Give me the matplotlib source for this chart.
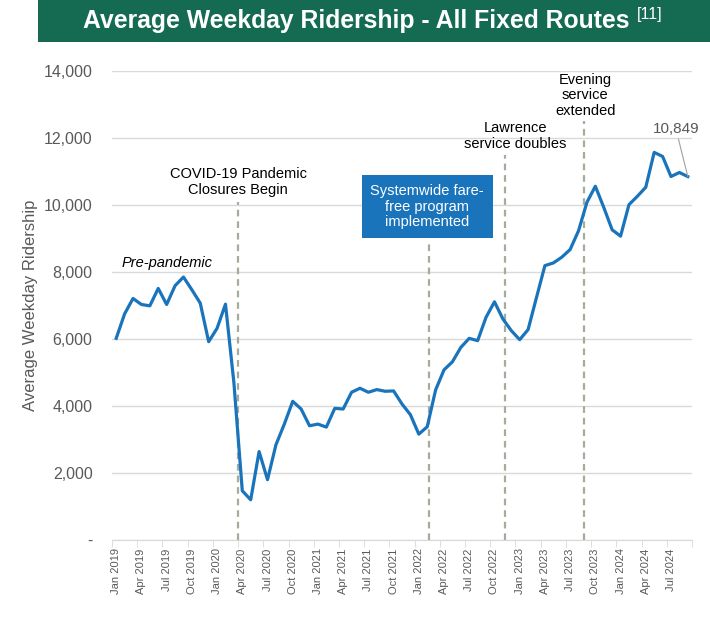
import matplotlib
matplotlib.use('Agg')
import matplotlib.pyplot as plt
from matplotlib.patches import Rectangle
import numpy as np

plt.rcParams['font.family'] = ['Liberation Sans', 'DejaVu Sans']

# monthly average weekday ridership, Jan 2019 - Sep 2024
years = [2019, 2020, 2021, 2022, 2023, 2024]
month_names = ['Jan', 'Feb', 'Mar', 'Apr', 'May', 'Jun',
               'Jul', 'Aug', 'Sep', 'Oct', 'Nov', 'Dec']
ridership = [
    6020, 6750, 7210, 7030, 6990, 7510, 7030, 7590, 7850, 7470, 7070, 5920,
    6320, 7040, 4700, 1470, 1200, 2640, 1800, 2840, 3460, 4140, 3910, 3410,
    3460, 3370, 3930, 3910, 4410, 4530, 4410, 4490, 4440, 4450, 4060, 3740,
    3160, 3380, 4480, 5080, 5320, 5750, 6020, 5950, 6650, 7110, 6600, 6250,
    5980, 6280, 7240, 8190, 8270, 8440, 8670, 9230, 10080, 10560, 9930, 9260,
    9070, 10010, 10260, 10530, 11570, 11450, 10850, 10970, 10849,
]
months = [f"{m} {y}" for y in years for m in month_names][:len(ridership)]

# events (position in months from Jan 2019) and top of the dashed line
event_pos = [14.5, 37.2, 46.3, 55.6]
event_top = [10100, 8930, 11500, 12500]

blue = '#1a74bb'
gray = '#595959'
dash_col = '#a7ab9c'

fig = plt.figure(figsize=(7.1, 6.25), dpi=100)
ax = fig.add_axes([112/710, 1 - 540/625, 580/710, 469/625])

x = np.arange(len(ridership))
ax.plot(x, ridership, color=blue, lw=2.3, solid_joinstyle='round', zorder=3)

for p, t in zip(event_pos, event_top):
    ax.plot([p, p], [0, t], color=dash_col, lw=1.6, ls=(0, (3, 2.2)), zorder=2)

ax.set_xlim(-0.5, len(ridership) - 0.5)
ax.set_ylim(0, 14000)
ax.set_yticks(range(0, 14001, 2000))
ax.set_yticklabels(['-'] + [f"{v:,}" for v in range(2000, 14001, 2000)],
                   fontsize=11.5, color=gray)
ax.grid(axis='y', color='#d9d9d9', lw=1)
ax.set_axisbelow(True)

ax.set_xticks(x[::3])
ax.set_xticklabels(months[::3], rotation=90, fontsize=8, color=gray)
ax.set_xticks(np.arange(-0.5, len(ridership), 3), minor=True)
ax.tick_params(axis='x', which='major', length=0, pad=6)
ax.tick_params(axis='x', which='minor', length=5, color='#d9d9d9')
ax.tick_params(axis='y', length=0, pad=14)
for s in ['top', 'right', 'left']:
    ax.spines[s].set_visible(False)
ax.spines['bottom'].set_color('#d9d9d9')

ax.set_ylabel('Average Weekday Ridership', fontsize=12, color=gray)
ax.yaxis.set_label_coords((38 - 112) / 580, 0.5)

# annotations
ax.text(0.6, 8050, 'Pre-pandemic', fontsize=10.5, style='italic', ha='left', va='bottom')
ax.text(14.5, 10250, 'COVID-19 Pandemic\nClosures Begin', fontsize=10.5,
        ha='center', va='bottom', linespacing=1.15)
ax.text(37.0, 9950, 'Systemwide fare-\nfree program\nimplemented', fontsize=10.5,
        color='white', ha='center', va='center', linespacing=1.15,
        bbox=dict(boxstyle='square,pad=0.6', fc=blue, ec='none'))
ax.text(47.5, 11620, 'Lawrence\nservice doubles', fontsize=10.5,
        ha='center', va='bottom', linespacing=1.15)
ax.text(55.8, 12600, 'Evening\nservice\nextended', fontsize=10.5,
        ha='center', va='bottom', linespacing=1.15)
ax.annotate('10,849', xy=(68, ridership[-1]), xytext=(66.6, 12050),
            fontsize=11, color=gray, ha='center', va='bottom',
            arrowprops=dict(arrowstyle='-', color='#a0a0a0', lw=0.8,
                            shrinkA=0, shrinkB=0))

# title banner
fig.patches.append(Rectangle((38/710, 1 - 42/625), 1, 42/625, transform=fig.transFigure,
                             fc='#146b51', ec='none'))
title = fig.text(83/710, 1 - 21/625, 'Average Weekday Ridership - All Fixed Routes',
                 fontsize=17.8, fontweight='bold', color='white', ha='left', va='center')
fig.canvas.draw()
bb = title.get_window_extent()
fig.text((bb.x1 + 7) / 710, 1 - 15/625, '[11]', fontsize=11.5, color='white',
         ha='left', va='center')

fig.savefig('out.png', dpi=100)
